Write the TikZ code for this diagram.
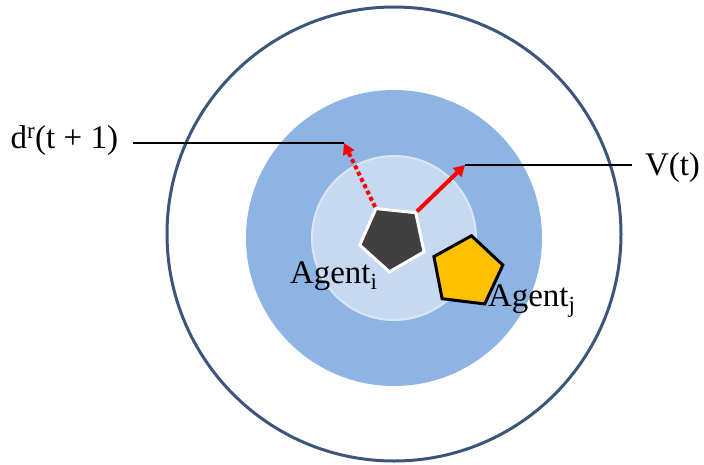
\documentclass[tikz,border=0pt]{standalone}
\usepackage{fontspec}
\setmainfont{Liberation Serif}
\usetikzlibrary{shapes.geometric,arrows.meta,positioning}
\definecolor{ringline}{RGB}{59,86,122}
\definecolor{zonemid}{RGB}{141,180,226}
\definecolor{zonein}{RGB}{198,217,241}
\definecolor{zoneedge}{RGB}{218,230,246}
\definecolor{agentdark}{RGB}{64,64,64}
\definecolor{agentgold}{RGB}{255,192,0}

\begin{document}
\begin{tikzpicture}[x=1pt, y=-1pt,
    zone/.style={circle, inner sep=0pt, outer sep=0pt},
    agent/.style={regular polygon, regular polygon sides=5, inner sep=0pt,
        line width=3pt},
    lbl/.style={font=\fontsize{33}{38}\selectfont, inner ysep=2pt, outer sep=0pt},
    leader/.style={line width=1.6pt, black},
    move/.style={line width=4pt, red, -{Triangle[length=11pt,width=12pt]}},
    >=Stealth
]
\useasboundingbox (0,0) rectangle (704,464);
% neighbourhood zones
\node[zone, draw=ringline, line width=3pt, minimum size=454pt] (outer) at (394,234) {};
\node[zone, fill=zonemid, minimum size=296pt] (mid) at (394,238) {};
\node[zone, fill=zonein, draw=zoneedge, line width=2pt, minimum size=164pt] (inner) at (394,238) {};
% agents
\node[agent, fill=agentdark, draw=white, shape border rotate=30, minimum size=68pt] (agenti) at (393,238) {};
\node[agent, fill=agentgold, draw=black, shape border rotate=-7, minimum size=73pt] (agentj) at (467,272) {};
\coordinate (drtip) at (344,143);
\coordinate (vtip) at (465,165);
\draw[move, dash pattern=on 4pt off 3pt] (agenti.corner 1) -- (drtip);
\draw[move] (agenti.corner 5) -- (vtip);
% labels
\node[lbl, anchor=base east, inner xsep=15pt] (drlabel) at (133,148) {d\textsuperscript{r}(t + 1)};
\node[lbl, anchor=base west, inner xsep=13pt] (vlabel) at (632,175) {V(t)};
\node[lbl, anchor=base west, inner xsep=0pt] (namei) at (290,283) {Agent\textsubscript{i}};
\node[lbl, anchor=base west, inner xsep=0pt] (namej) at (488,306) {Agent\textsubscript{j}};
\draw[leader] (drlabel.east |- drtip) -- (drtip);
\draw[leader] (vtip) -- (vlabel.west |- vtip);
\end{tikzpicture}
\end{document}
